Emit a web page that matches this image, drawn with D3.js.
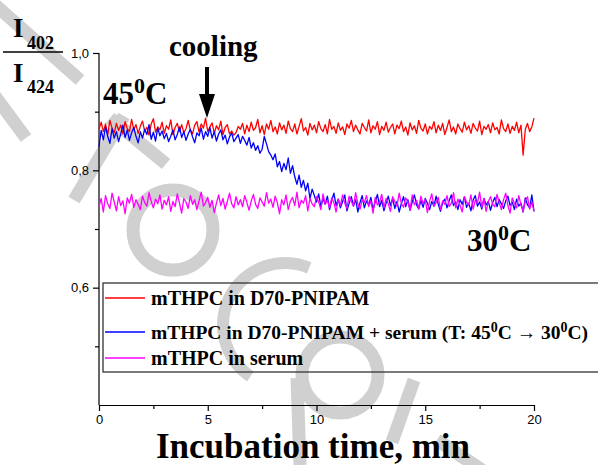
<!DOCTYPE html>
<html><head><meta charset="utf-8">
<script src="https://cdn.jsdelivr.net/npm/d3@7"></script>
<style>
html,body{margin:0;padding:0;background:#fff;}
svg{display:block;}
</style></head>
<body>
<svg id="chart" width="598" height="465"></svg>
<script>
// ---- data ----
const timeStart = 0, timeStep = 0.1; // minutes
const redValues = [
0.870,0.882,0.866,0.879,0.861,0.885,0.872,0.864,0.880,0.868,
0.877,0.862,0.883,0.871,0.866,0.887,0.869,0.878,0.863,0.875,
0.884,0.867,0.873,0.860,0.879,0.888,0.865,0.874,0.869,0.882,
0.863,0.876,0.870,0.886,0.861,0.873,0.880,0.866,0.878,0.864,
0.871,0.885,0.868,0.862,0.877,0.883,0.865,0.879,0.872,0.889,
0.866,0.874,0.881,0.863,0.876,0.869,0.884,0.861,0.873,0.878,
0.862,0.867,0.860,0.864,0.875,0.870,0.880,0.862,0.877,0.866,
0.882,0.868,0.873,0.887,0.864,0.876,0.861,0.879,0.870,0.885,
0.866,0.874,0.862,0.881,0.869,0.877,0.863,0.884,0.871,0.866,
0.879,0.862,0.875,0.888,0.867,0.873,0.860,0.880,0.869,0.877,
0.864,0.883,0.871,0.866,0.878,0.862,0.887,0.870,0.875,0.863,
0.881,0.868,0.874,0.861,0.879,0.872,0.885,0.866,0.877,0.869,
0.862,0.880,0.873,0.867,0.886,0.864,0.876,0.870,0.883,0.861,
0.875,0.868,0.882,0.865,0.873,0.879,0.862,0.877,0.871,0.884,
0.866,0.874,0.860,0.881,0.869,0.876,0.863,0.885,0.872,0.867,
0.879,0.862,0.875,0.870,0.883,0.864,0.877,0.868,0.880,0.861,
0.873,0.886,0.866,0.874,0.862,0.879,0.871,0.865,0.882,0.869,
0.876,0.863,0.880,0.872,0.867,0.884,0.861,0.875,0.870,0.878,
0.864,0.881,0.869,0.873,0.862,0.886,0.871,0.866,0.879,0.863,
0.875,0.868,0.882,0.864,0.877,0.826,0.870,0.880,0.866,0.874,
0.889];
const blueValues = [
0.840,0.868,0.852,0.874,0.858,0.846,0.871,0.855,0.866,0.849,
0.862,0.877,0.856,0.869,0.851,0.864,0.873,0.858,0.847,0.866,
0.855,0.870,0.861,0.878,0.853,0.865,0.850,0.872,0.859,0.867,
0.854,0.863,0.849,0.858,0.869,0.852,0.861,0.874,0.856,0.866,
0.851,0.862,0.870,0.857,0.847,0.864,0.859,0.872,0.853,0.866,
0.858,0.873,0.855,0.866,0.850,0.862,0.869,0.852,0.860,0.845,
0.857,0.864,0.849,0.855,0.861,0.846,0.858,0.851,0.843,0.856,
0.838,0.847,0.834,0.842,0.829,0.836,0.858,0.845,0.832,0.826,
0.818,0.828,0.806,0.815,0.798,0.812,0.801,0.821,0.795,0.808,
0.789,0.776,0.792,0.771,0.783,0.765,0.778,0.752,0.768,0.757,
0.746,0.760,0.738,0.752,0.742,0.756,0.733,0.749,0.761,0.740,
0.751,0.736,0.747,0.758,0.731,0.744,0.755,0.739,0.750,0.729,
0.745,0.757,0.736,0.748,0.741,0.754,0.733,0.746,0.759,0.738,
0.749,0.731,0.744,0.756,0.740,0.752,0.735,0.747,0.729,0.743,
0.755,0.738,0.750,0.732,0.746,0.758,0.741,0.734,0.749,0.737,
0.752,0.744,0.733,0.747,0.739,0.756,0.742,0.730,0.745,0.751,
0.736,0.748,0.758,0.740,0.746,0.733,0.750,0.742,0.755,0.737,
0.744,0.731,0.749,0.757,0.739,0.746,0.734,0.752,0.741,0.747,
0.732,0.745,0.754,0.738,0.750,0.743,0.735,0.748,0.756,0.740,
0.746,0.733,0.751,0.739,0.744,0.729,0.753,0.741,0.736,0.758,
0.730];
const magentaValues = [
0.738,0.752,0.729,0.757,0.743,0.735,0.761,0.746,0.731,0.755,
0.740,0.748,0.726,0.753,0.744,0.759,0.737,0.750,0.742,0.733,
0.756,0.745,0.739,0.762,0.747,0.736,0.751,0.743,0.758,0.734,
0.749,0.741,0.755,0.730,0.747,0.738,0.760,0.744,0.727,0.752,
0.746,0.735,0.757,0.742,0.750,0.733,0.748,0.763,0.739,0.745,
0.754,0.737,0.749,0.728,0.744,0.758,0.740,0.752,0.734,0.747,
0.761,0.743,0.736,0.755,0.741,0.750,0.738,0.757,0.745,0.732,
0.748,0.759,0.742,0.735,0.753,0.746,0.739,0.762,0.744,0.751,
0.737,0.756,0.745,0.726,0.750,0.741,0.758,0.733,0.747,0.754,
0.740,0.763,0.736,0.749,0.744,0.757,0.731,0.752,0.743,0.738,
0.755,0.746,0.733,0.760,0.742,0.749,0.736,0.753,0.745,0.729,
0.751,0.740,0.758,0.744,0.735,0.756,0.747,0.739,0.762,0.743,
0.734,0.750,0.745,0.757,0.738,0.748,0.727,0.754,0.741,0.746,
0.759,0.736,0.752,0.743,0.730,0.755,0.747,0.739,0.761,0.744,
0.737,0.753,0.746,0.732,0.758,0.741,0.749,0.735,0.756,0.743,
0.750,0.728,0.747,0.760,0.739,0.745,0.754,0.733,0.748,0.742,
0.757,0.738,0.744,0.762,0.736,0.751,0.740,0.729,0.755,0.746,
0.741,0.758,0.734,0.749,0.744,0.763,0.737,0.752,0.730,0.747,
0.755,0.742,0.738,0.759,0.745,0.733,0.750,0.761,0.740,0.727,
0.753,0.744,0.736,0.757,0.741,0.730,0.748,0.755,0.734,0.746,
0.730];
const seriesNames = ["mTHPC in D70-PNIPAM", "mTHPC in D70-PNIPAM + serum", "mTHPC in serum"];
const seriesColors = ["#ff0000", "#0000ff", "#ff00ff"];
const xMajorTicks = [0, 5, 10, 15, 20];
const xMinorTicks = [2.5, 7.5, 12.5, 17.5];
const yMajorTicks = [0.6, 0.8, 1.0];
const yMinorTicks = [0.5, 0.7, 0.9];

// ---- chart ----
const svg = d3.select("#chart");
const serif = "'Liberation Serif','Times New Roman',serif";
const sans = "'Liberation Sans',Arial,sans-serif";

const x = d3.scaleLinear().domain([0, 20]).range([99, 534]);
const y = d3.scaleLinear().domain([0.4, 1.0]).range([405, 53]);

// watermark (light grey strokes behind chart)
const wmColor = "#d0d0d0";
const wm = svg.append("g").attr("fill", "none").attr("stroke", wmColor).attr("stroke-width", 13).attr("stroke-linecap", "butt");
[[[-8,2],[80,80]], [[-8,92],[26,138]], [[110,118],[166,164]], [[74,200],[124,116]],
 [[297,378],[300,465]], [[414,380],[392,442]], [[437,440],[482,470]]]
  .forEach(s => wm.append("line").attr("x1", s[0][0]).attr("y1", s[0][1]).attr("x2", s[1][0]).attr("y2", s[1][1]));
wm.append("circle").attr("cx", 173).attr("cy", 230).attr("r", 40);
wm.append("circle").attr("cx", 340).attr("cy", 375).attr("r", 38);
wm.append("path").attr("d", d3.arc()({innerRadius: 56, outerRadius: 68, startAngle: -2.55, endAngle: 0.4}))
  .attr("transform", "translate(285,325)").attr("fill", wmColor).attr("stroke", "none");

// axes
const xAxis = svg.append("g").attr("transform", "translate(0,405)")
  .call(d3.axisBottom(x).tickValues(xMajorTicks).tickSize(6).tickSizeOuter(0).tickPadding(4).tickFormat(d3.format("d")));
const xMinor = svg.append("g").attr("transform", "translate(0,405)")
  .call(d3.axisBottom(x).tickValues(xMinorTicks).tickSize(4).tickSizeOuter(0).tickFormat(""));
xMinor.select(".domain").remove();
const yAxis = svg.append("g").attr("transform", "translate(99,0)")
  .call(d3.axisLeft(y).tickValues(yMajorTicks).tickSize(6).tickSizeOuter(0).tickPadding(4)
    .tickFormat(d => d3.format(".1f")(d).replace(".", ",")));
const yMinor = svg.append("g").attr("transform", "translate(99,0)")
  .call(d3.axisLeft(y).tickValues(yMinorTicks).tickSize(4).tickSizeOuter(0).tickFormat(""));
yMinor.select(".domain").remove();
svg.selectAll(".tick text").attr("font-family", sans).attr("font-size", 13).attr("fill", "#000");
svg.selectAll(".domain, .tick line").attr("stroke", "#000").attr("stroke-width", 1.2);
yAxis.select(".domain").attr("d", `M0,${y(1.0)}V${y(0.4)}`);

// lines
const allSeries = [redValues, blueValues, magentaValues];
const line = d3.line().x((d, i) => x(timeStart + i * timeStep)).y(d => y(d));
allSeries.forEach((vals, k) => {
  svg.append("path").datum(vals).attr("d", line).attr("fill", "none")
    .attr("stroke", seriesColors[k]).attr("stroke-width", 1.3).attr("stroke-linejoin", "round");
});

// legend
const lg = svg.append("g");
lg.append("rect").attr("x", 103).attr("y", 283).attr("width", 520).attr("height", 89)
  .attr("fill", "none").attr("stroke", "#333").attr("stroke-width", 1.3);
const rowLineY = [298, 332, 358];
const rowTextY = [305, 339, 365];
seriesColors.forEach((c, k) => {
  lg.append("line").attr("x1", 105).attr("x2", 145).attr("y1", rowLineY[k]).attr("y2", rowLineY[k])
    .attr("stroke", c).attr("stroke-width", 1.5);
});
const lt = (k, fs) => lg.append("text").attr("x", 151).attr("y", rowTextY[k])
  .attr("font-family", serif).attr("font-weight", "bold").attr("font-size", fs).attr("fill", "#000");
lt(0, 20).text(seriesNames[0]);
const t2 = lt(1, 19.5);
t2.append("tspan").text(seriesNames[1] + " (T: 45");
t2.append("tspan").attr("dy", -7).attr("font-size", 14).text("0");
t2.append("tspan").attr("dy", 7).text("C \u2192 30");
t2.append("tspan").attr("dy", -7).attr("font-size", 14).text("0");
t2.append("tspan").attr("dy", 7).text("C)");
lt(2, 20).text(seriesNames[2]);

// annotations
const bt = (xx, yy, size) => svg.append("text").attr("x", xx).attr("y", yy)
  .attr("font-family", serif).attr("font-weight", "bold").attr("font-size", size).attr("fill", "#000");
bt(169, 56, 29).text("cooling");
svg.append("rect").attr("x", 205).attr("y", 67).attr("width", 4).attr("height", 28).attr("fill", "#000");
svg.append("path").attr("d", "M199,94 L215,94 L207,118 Z").attr("fill", "#000");

const deg = (xx, yy, a, b) => {
  const t = bt(xx, yy, 31);
  t.append("tspan").text(a);
  t.append("tspan").attr("dy", -11).attr("font-size", 22).text("0");
  t.append("tspan").attr("dy", 11).text(b);
};
deg(103, 104, "45", "C");
deg(467, 251, "30", "C");

// y-axis label (fraction)
bt(13, 37, 27).text("I");
bt(27, 49, 18).text("402");
svg.append("line").attr("x1", 3).attr("x2", 63).attr("y1", 52).attr("y2", 52).attr("stroke", "#000").attr("stroke-width", 1.5);
bt(13, 82, 27).text("I");
bt(27, 93, 18).text("424");

// x-axis title
bt(313, 458, 35).attr("text-anchor", "middle").text("Incubation time, min");
</script>
</body></html>
